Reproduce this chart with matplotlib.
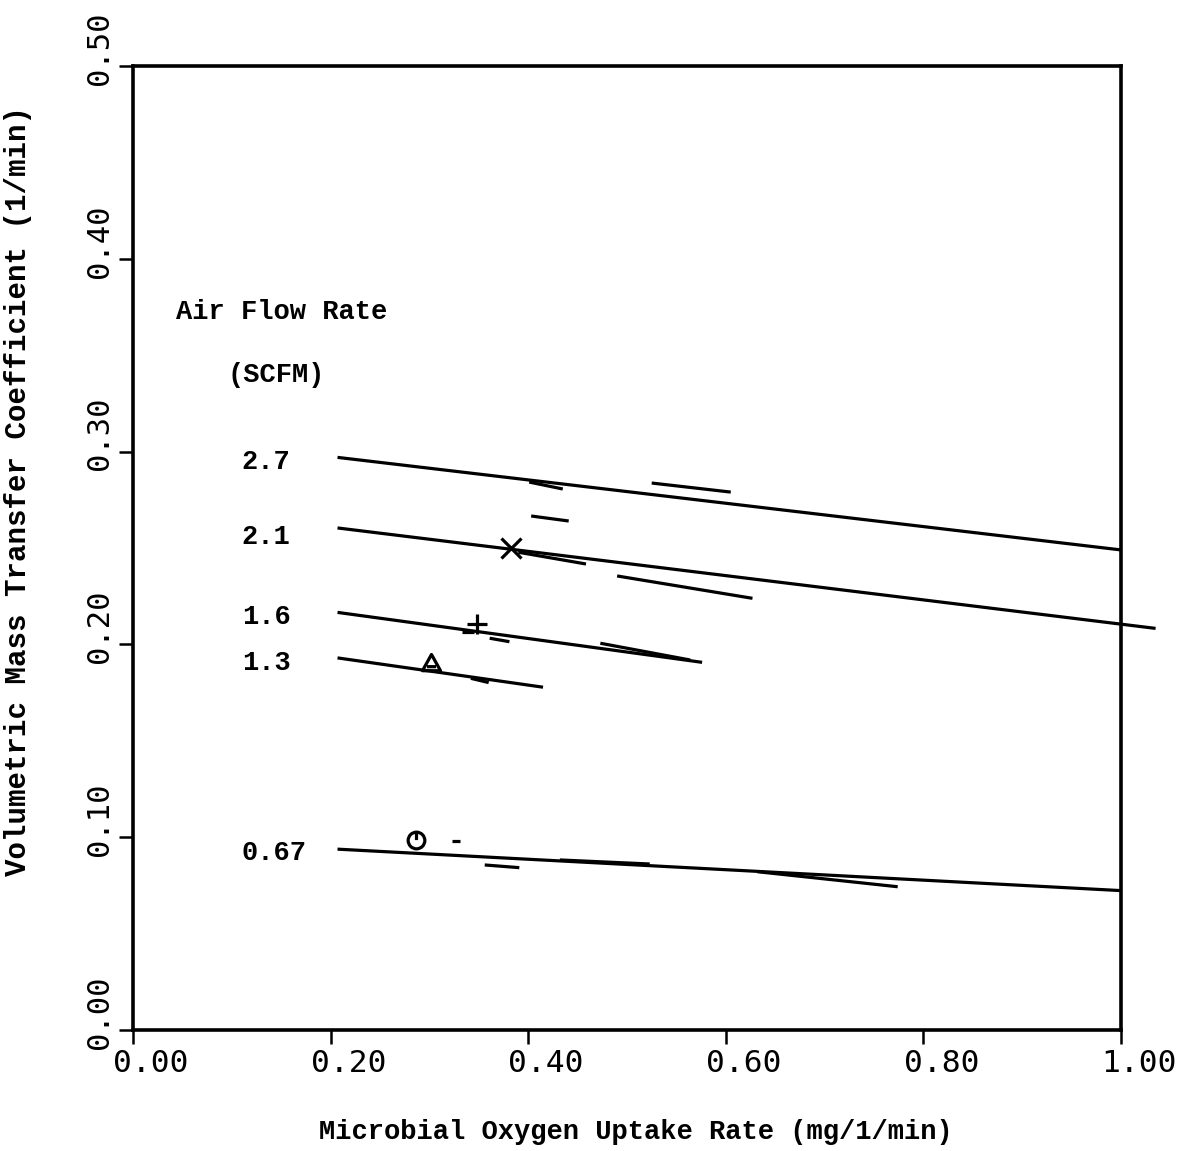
import matplotlib
matplotlib.use("Agg")
import matplotlib.pyplot as plt
from matplotlib.path import Path
from matplotlib.transforms import ScaledTranslation

# ---------------- data ----------------
flow_labels = ["2.7", "2.1", "1.6", "1.3", "0.67"]
line_x0 = [0.207, 0.207, 0.207, 0.207, 0.207]
line_x1 = [1.000, 1.035, 0.576, 0.415, 1.000]
line_y0 = [0.2970, 0.2604, 0.2166, 0.1930, 0.0938]
line_y1 = [0.2490, 0.2083, 0.1907, 0.1778, 0.0723]
label_y = [0.2946, 0.2557, 0.2140, 0.1905, 0.0918]

# short data dashes (start x, end x, start y, end y)
dash_x0 = [0.401, 0.525, 0.403, 0.390, 0.490, 0.361, 0.473, 0.342, 0.333, 0.323, 0.356, 0.432, 0.632]
dash_x1 = [0.435, 0.605, 0.441, 0.4585, 0.627, 0.381, 0.564, 0.360, 0.345, 0.331, 0.391, 0.523, 0.774]
dash_y0 = [0.2842, 0.2837, 0.2666, 0.2478, 0.2355, 0.2032, 0.2006, 0.1824, 0.2066, 0.0982, 0.0856, 0.0882, 0.0821]
dash_y1 = [0.2806, 0.2790, 0.2640, 0.2417, 0.2239, 0.2014, 0.1919, 0.1802, 0.2066, 0.0982, 0.0842, 0.0861, 0.0743]

# symbol points
sym_x = [0.383, 0.348, 0.302, 0.286]
sym_y = [0.2498, 0.2104, 0.1903, 0.0985]

x_ticks = [0.0, 0.2, 0.4, 0.6, 0.8, 1.0]
x_ticklabels = ["0.00", "0.20", "0.40", "0.60", "0.80", "1.00"]
y_ticks = [0.0, 0.1, 0.2, 0.3, 0.4, 0.5]
y_ticklabels = ["0.00", "0.10", "0.20", "0.30", "0.40", "0.50"]

xlabel = "Microbial Oxygen Uptake Rate (mg/1/min)"
ylabel = "Volumetric Mass Transfer Coefficient (1/min)"
title1 = "Air Flow Rate"
title2 = "(SCFM)"

# ---------------- figure ----------------
TXT = "Liberation Mono"
TICK = "DejaVu Sans Mono"

fig = plt.figure(figsize=(11.96, 11.51), dpi=100)
ax = fig.add_axes([133 / 1196, 121 / 1151, 988 / 1196, 964 / 1151])
ax.set_xlim(0, 1.0)
ax.set_ylim(0, 0.5)

for s in ax.spines.values():
    s.set_linewidth(2.6)
    s.set_color("black")

ax.set_xticks(x_ticks)
ax.set_xticklabels(x_ticklabels, fontfamily=TICK, fontsize=22.5)
ax.set_yticks(y_ticks)
ax.set_yticklabels(y_ticklabels, fontfamily=TICK, fontsize=22, rotation=90, va="center")
ax.tick_params(axis="both", direction="out", length=10, width=1.8, pad=4, colors="black")
ax.tick_params(top=False, right=False)

for lab in ax.get_xticklabels():
    lab.set_transform(lab.get_transform() + ScaledTranslation(18 / 100, 0, fig.dpi_scale_trans))
for lab in ax.get_yticklabels():
    lab.set_transform(lab.get_transform() + ScaledTranslation(0, 18 / 100, fig.dpi_scale_trans))

# fitted lines
for x0, x1, y0, y1 in zip(line_x0, line_x1, line_y0, line_y1):
    ax.plot([x0, x1], [y0, y1], color="black", lw=2.3, solid_capstyle="butt", clip_on=False)

# data dashes
for x0, x1, y0, y1 in zip(dash_x0, dash_x1, dash_y0, dash_y1):
    ax.plot([x0, x1], [y0, y1], color="black", lw=2.3, solid_capstyle="butt")

# symbols
tri = Path([(-1, -0.8), (0, 1), (1, -0.8), (-1, -0.8), (-0.5, -0.35), (0.5, -0.35)],
           [Path.MOVETO, Path.LINETO, Path.LINETO, Path.CLOSEPOLY, Path.MOVETO, Path.LINETO])
clock = Path.make_compound_path(Path.unit_circle(),
                                Path([(0, 1), (0, 0.05)], [Path.MOVETO, Path.LINETO]))
markers = ["x", "+", tri, clock]
sizes = [14, 14, 13, 12]
for xv, yv, m, ms in zip(sym_x, sym_y, markers, sizes):
    ax.plot([xv], [yv], marker=m, ms=ms, mew=2.3, mfc="none", mec="black", ls="none")

# annotations
txtkw = dict(fontfamily=TXT, fontsize=19.5, fontweight="bold", color="black")
ax.text(0.044, 0.3724, title1, ha="left", va="center", **txtkw)
ax.text(0.096, 0.3397, title2, ha="left", va="center", **txtkw)
for lbl, yv in zip(flow_labels, label_y):
    ax.text(0.110, yv, lbl, ha="left", va="center", **txtkw)

ax.set_xlabel(xlabel, fontfamily=TXT, fontsize=19.5, fontweight="bold")
ax.set_ylabel(ylabel, fontfamily=TXT, fontsize=21, fontweight="bold")
ax.xaxis.label.set_va("center")
ax.yaxis.label.set_va("center")
ax.xaxis.set_label_coords(0.509, -0.1057)
ax.yaxis.set_label_coords(-0.1165, 0.5596)

fig.savefig("out.png", dpi=100)
